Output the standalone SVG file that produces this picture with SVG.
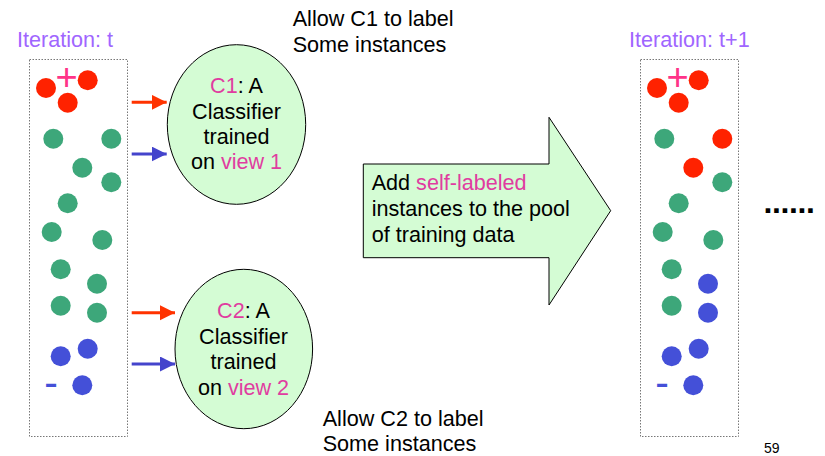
<svg xmlns="http://www.w3.org/2000/svg" width="825" height="456" viewBox="0 0 825 456">
<defs>
<style>
text{font-family:"Liberation Sans",Arial,sans-serif;font-size:21.6px;fill:#000}
.it{fill:#a066ff}
.mg{fill:#e03ca0}
.box{fill:none;stroke:#777;stroke-width:1;stroke-dasharray:1.5,1.5}
.r{fill:#ff2200}.g{fill:#3da77a}.b{fill:#4450d8}
.ell{fill:#d4fcd4;stroke:#000;stroke-width:1}
.plus{fill:#ff3388;font-size:38px}
.minus{fill:#4450d8;font-size:41px}
.ar{stroke:#ff3300;stroke-width:3}
.ab{stroke:#4444cc;stroke-width:3}
</style>
<marker id="hr" markerUnits="userSpaceOnUse" markerWidth="16" markerHeight="16" refX="15" refY="7.5" orient="auto"><path d="M0,0 L15,7.5 L0,15 Z" fill="#ff3300"/></marker>
<marker id="hb" markerUnits="userSpaceOnUse" markerWidth="16" markerHeight="16" refX="15" refY="7.5" orient="auto"><path d="M0,0 L15,7.5 L0,15 Z" fill="#4444cc"/></marker>
</defs>
<rect width="825" height="456" fill="#fff"/>

<g id="pool-t">
<text class="it" x="17" y="47">Iteration: t</text>
<rect class="box" x="29.5" y="59.5" width="98" height="377"/>
<text class="plus" x="66.7" y="89.7" text-anchor="middle">+</text>
<circle class="r" cx="46" cy="88" r="10"/>
<circle class="r" cx="87.7" cy="80.3" r="10"/>
<circle class="r" cx="67.7" cy="102.7" r="10"/>
<circle class="g" cx="53.3" cy="138.7" r="10"/>
<circle class="g" cx="111.3" cy="138.7" r="10"/>
<circle class="g" cx="82.3" cy="167.7" r="10"/>
<circle class="g" cx="111.3" cy="182.3" r="10"/>
<circle class="g" cx="67.7" cy="203.3" r="10"/>
<circle class="g" cx="51.7" cy="232" r="10"/>
<circle class="g" cx="102.3" cy="240" r="10"/>
<circle class="g" cx="60.7" cy="269.3" r="10"/>
<circle class="g" cx="97" cy="283.7" r="10"/>
<circle class="g" cx="60.7" cy="305.7" r="10"/>
<circle class="g" cx="97" cy="312.7" r="10"/>
<circle class="b" cx="60.7" cy="356.3" r="10"/>
<circle class="b" cx="87.7" cy="348.7" r="10"/>
<circle class="b" cx="82.3" cy="385.3" r="10"/>
<text class="minus" x="44.2" y="396.3">-</text>
</g>

<g id="c1">
<ellipse class="ell" cx="236.5" cy="124.5" rx="69.2" ry="79.8"/>
<text x="236.5" y="93.3" text-anchor="middle"><tspan class="mg">C1</tspan>: A</text>
<text x="236.5" y="118.5" text-anchor="middle">Classifier</text>
<text x="236.5" y="143.5" text-anchor="middle">trained</text>
<text x="236.5" y="169.3" text-anchor="middle">on <tspan class="mg">view 1</tspan></text>
</g>

<g id="c2">
<ellipse class="ell" cx="243.8" cy="349" rx="68.8" ry="79.7"/>
<text x="243.5" y="318.3" text-anchor="middle"><tspan class="mg">C2</tspan>: A</text>
<text x="243.5" y="343.5" text-anchor="middle">Classifier</text>
<text x="243.5" y="369.3" text-anchor="middle">trained</text>
<text x="243.5" y="395.3" text-anchor="middle">on <tspan class="mg">view 2</tspan></text>
</g>

<g id="note1">
<text x="292.7" y="26">Allow C1 to label</text>
<text x="292.7" y="52">Some instances</text>
</g>
<g id="note2">
<text x="322.7" y="425.5">Allow C2 to label</text>
<text x="322.7" y="451">Some instances</text>
</g>

<g id="add">
<path class="ell" d="M363.3,164 L549,164 L549,117.3 L610.7,210.7 L549,305 L549,257.7 L363.3,257.7 Z"/>
<text x="371.7" y="190">Add <tspan class="mg">self-labeled</tspan></text>
<text x="371.7" y="216">instances to the pool</text>
<text x="371.7" y="241.5">of training data</text>
</g>

<g id="pool-t1">
<text class="it" x="629" y="47">Iteration: t+1</text>
<rect class="box" x="640.5" y="59.5" width="98" height="377"/>
<text class="plus" x="677.7" y="89.7" text-anchor="middle">+</text>
<circle class="r" cx="657" cy="88" r="10"/>
<circle class="r" cx="698.7" cy="80.3" r="10"/>
<circle class="r" cx="678.7" cy="102.7" r="10"/>
<circle class="g" cx="664.3" cy="138.7" r="10"/>
<circle class="r" cx="722.3" cy="138.7" r="10"/>
<circle class="r" cx="693.3" cy="167.7" r="10"/>
<circle class="g" cx="722.3" cy="182.3" r="10"/>
<circle class="g" cx="678.7" cy="203.3" r="10"/>
<circle class="g" cx="662.7" cy="232" r="10"/>
<circle class="g" cx="713.3" cy="240" r="10"/>
<circle class="g" cx="671.7" cy="269.3" r="10"/>
<circle class="b" cx="708" cy="283.7" r="10"/>
<circle class="g" cx="671.7" cy="305.7" r="10"/>
<circle class="b" cx="708" cy="312.7" r="10"/>
<circle class="b" cx="671.7" cy="356.3" r="10"/>
<circle class="b" cx="698.7" cy="348.7" r="10"/>
<circle class="b" cx="693.3" cy="385.3" r="10"/>
<text class="minus" x="655.2" y="396.3">-</text>
</g>

<g id="connectors">
<line class="ar" x1="131.7" y1="102.3" x2="166.7" y2="102.3" marker-end="url(#hr)"/>
<line class="ab" x1="131.7" y1="154" x2="166.7" y2="154" marker-end="url(#hb)"/>
<line class="ar" x1="131.7" y1="312.7" x2="175" y2="312.7" marker-end="url(#hr)"/>
<line class="ab" x1="131.7" y1="364" x2="175" y2="364" marker-end="url(#hb)"/>
</g>

<text x="763.5" y="213" style="font-size:32px;font-weight:bold;letter-spacing:-0.4px">......</text>
<text x="764" y="453" style="font-size:14px">59</text>
</svg>
